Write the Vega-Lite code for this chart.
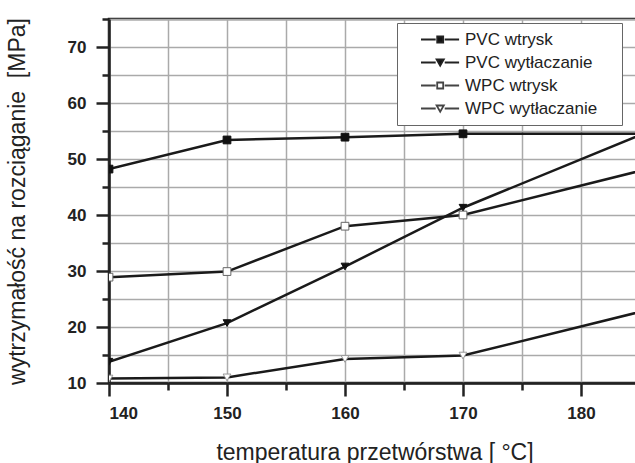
{
  "$schema": "https://vega.github.io/schema/vega-lite/v6.json",
  "width": 531,
  "height": 364,
  "autosize": {"type": "none"},
  "padding": {"left": 109, "top": 19, "right": 0, "bottom": 80},
  "background": "white",
  "config": {
    "view": {"stroke": "#222", "strokeWidth": 2.5},
    "font": "Liberation Sans"
  },
  "data": {
    "values": [
      {"temp": 140, "value": 48.2, "series": "PVC wtrysk"},
      {"temp": 150, "value": 53.4, "series": "PVC wtrysk"},
      {"temp": 160, "value": 53.9, "series": "PVC wtrysk"},
      {"temp": 170, "value": 54.5, "series": "PVC wtrysk"},
      {"temp": 190, "value": 54.5, "series": "PVC wtrysk"},
      {"temp": 140, "value": 13.8, "series": "PVC wytłaczanie"},
      {"temp": 150, "value": 20.7, "series": "PVC wytłaczanie"},
      {"temp": 160, "value": 30.8, "series": "PVC wytłaczanie"},
      {"temp": 170, "value": 41.3, "series": "PVC wytłaczanie"},
      {"temp": 190, "value": 58.6, "series": "PVC wytłaczanie"},
      {"temp": 140, "value": 28.9, "series": "WPC wtrysk"},
      {"temp": 150, "value": 29.9, "series": "WPC wtrysk"},
      {"temp": 160, "value": 38.0, "series": "WPC wtrysk"},
      {"temp": 170, "value": 40.0, "series": "WPC wtrysk"},
      {"temp": 190, "value": 50.5, "series": "WPC wtrysk"},
      {"temp": 140, "value": 10.8, "series": "WPC wytłaczanie"},
      {"temp": 150, "value": 11.0, "series": "WPC wytłaczanie"},
      {"temp": 160, "value": 14.3, "series": "WPC wytłaczanie"},
      {"temp": 170, "value": 14.9, "series": "WPC wytłaczanie"},
      {"temp": 190, "value": 25.3, "series": "WPC wytłaczanie"}
    ]
  },
  "encoding": {
    "x": {
      "field": "temp", "type": "quantitative",
      "scale": {"domain": [140, 185], "nice": false, "zero": false},
      "axis": {
        "values": [140, 145, 150, 155, 160, 165, 170, 175, 180, 185],
        "labelExpr": "datum.value % 10 == 0 ? datum.label : ''",
        "title": "temperatura przetwórstwa [ °C]",
        "titleFont": "Liberation Sans", "titleFontSize": 23, "titleFontWeight": "normal", "titleColor": "#222",
        "titlePadding": 20,
        "labelFont": "Liberation Sans", "labelFontSize": 17, "labelFontWeight": "bold", "labelColor": "#222",
        "labelPadding": 9,
        "tickSize": {"condition": {"test": "datum.value % 10 == 0", "value": 13}, "value": 7},
        "tickColor": "#222", "tickWidth": 2.5,
        "domainColor": "#222", "domainWidth": 2.5,
        "grid": true, "gridColor": "#aaaaaa", "gridWidth": 1.5
      }
    },
    "y": {
      "field": "value", "type": "quantitative",
      "scale": {"domain": [10, 75], "nice": false, "zero": false},
      "axis": {
        "values": [10, 15, 20, 25, 30, 35, 40, 45, 50, 55, 60, 65, 70, 75],
        "labelExpr": "datum.value % 10 == 0 ? datum.label : ''",
        "title": "wytrzymałość na rozciąganie\u00a0 [MPa]",
        "titleFont": "Liberation Sans", "titleFontSize": 23, "titleFontWeight": "normal", "titleColor": "#222",
        "titlePadding": 38,
        "labelFont": "Liberation Sans", "labelFontSize": 17, "labelFontWeight": "bold", "labelColor": "#222",
        "labelPadding": 10,
        "tickSize": {"condition": {"test": "datum.value % 10 == 0", "value": 13}, "value": 7},
        "tickColor": "#222", "tickWidth": 2.5,
        "domainColor": "#222", "domainWidth": 2.5,
        "grid": true, "gridColor": "#aaaaaa", "gridWidth": 1.5
      }
    }
  },
  "layer": [
    {
      "mark": {"type": "line", "color": "#1a1a1a", "strokeWidth": 2.5, "clip": true},
      "encoding": {"detail": {"field": "series"}}
    },
    {
      "mark": {"type": "point", "filled": true, "size": 60, "strokeWidth": 1, "opacity": 1, "clip": true},
      "encoding": {
        "shape": {
          "field": "series", "type": "nominal",
          "scale": {"domain": ["PVC wtrysk", "PVC wytłaczanie", "WPC wtrysk", "WPC wytłaczanie"],
                    "range": ["square", "triangle-down", "square", "triangle-down"]},
          "legend": null
        },
        "fill": {
          "field": "series", "type": "nominal",
          "scale": {"domain": ["PVC wtrysk", "PVC wytłaczanie", "WPC wtrysk", "WPC wytłaczanie"],
                    "range": ["#111111", "#111111", "#ffffff", "#ffffff"]},
          "legend": null
        },
        "stroke": {
          "field": "series", "type": "nominal",
          "scale": {"domain": ["PVC wtrysk", "PVC wytłaczanie", "WPC wtrysk", "WPC wytłaczanie"],
                    "range": ["#111111", "#111111", "#666666", "#999999"]},
          "legend": null
        }
      }
    },
    {
      "mark": {"type": "point", "filled": true, "size": 36, "strokeWidth": 1.8, "opacity": 0, "clip": true},
      "encoding": {
        "shape": {
          "field": "series", "type": "nominal",
          "scale": {"domain": ["PVC wtrysk", "PVC wytłaczanie", "WPC wtrysk", "WPC wytłaczanie"],
                    "range": [
                      "M2.5,0L7.4,0M10.4,0L15.2,0M7.9,-1L9.9,-1L9.9,1L7.9,1Z",
                      "M2.5,0L7.4,0M10.4,0L15.2,0M7.7,-1L10.1,-1L8.9,1.1Z",
                      "M2.5,0L7.4,0M10.4,0L15.2,0M7.9,-1L9.9,-1L9.9,1L7.9,1Z",
                      "M2.5,0L7.4,0M10.4,0L15.2,0M7.7,-1L10.1,-1L8.9,1.1Z"
                    ]},
          "legend": {
            "title": null,
            "orient": "none", "legendX": 288, "legendY": 4,
            "strokeColor": "#666", "fillColor": "white", "padding": 8,
            "labelFont": "Liberation Sans", "labelFontSize": 17, "labelColor": "#222",
            "labelExpr": "datum.label + '\u00a0\u2800'",
            "symbolSize": 36, "symbolOffset": 0, "labelOffset": 43,
            "symbolOpacity": 1, "symbolStrokeWidth": 1.8,
            "rowPadding": 5,
            "labelLimit": 300
          }
        },
        "fill": {
          "field": "series", "type": "nominal",
          "scale": {"domain": ["PVC wtrysk", "PVC wytłaczanie", "WPC wtrysk", "WPC wytłaczanie"],
                    "range": ["#111111", "#111111", "#ffffff", "#ffffff"]}
        },
        "stroke": {
          "field": "series", "type": "nominal",
          "scale": {"domain": ["PVC wtrysk", "PVC wytłaczanie", "WPC wtrysk", "WPC wytłaczanie"],
                    "range": ["#222222", "#222222", "#444444", "#444444"]}
        }
      }
    }
  ],
  "resolve": {
    "scale": {"shape": "independent", "fill": "independent", "stroke": "independent"},
    "legend": {"shape": "independent", "fill": "independent", "stroke": "independent"}
  }
}
